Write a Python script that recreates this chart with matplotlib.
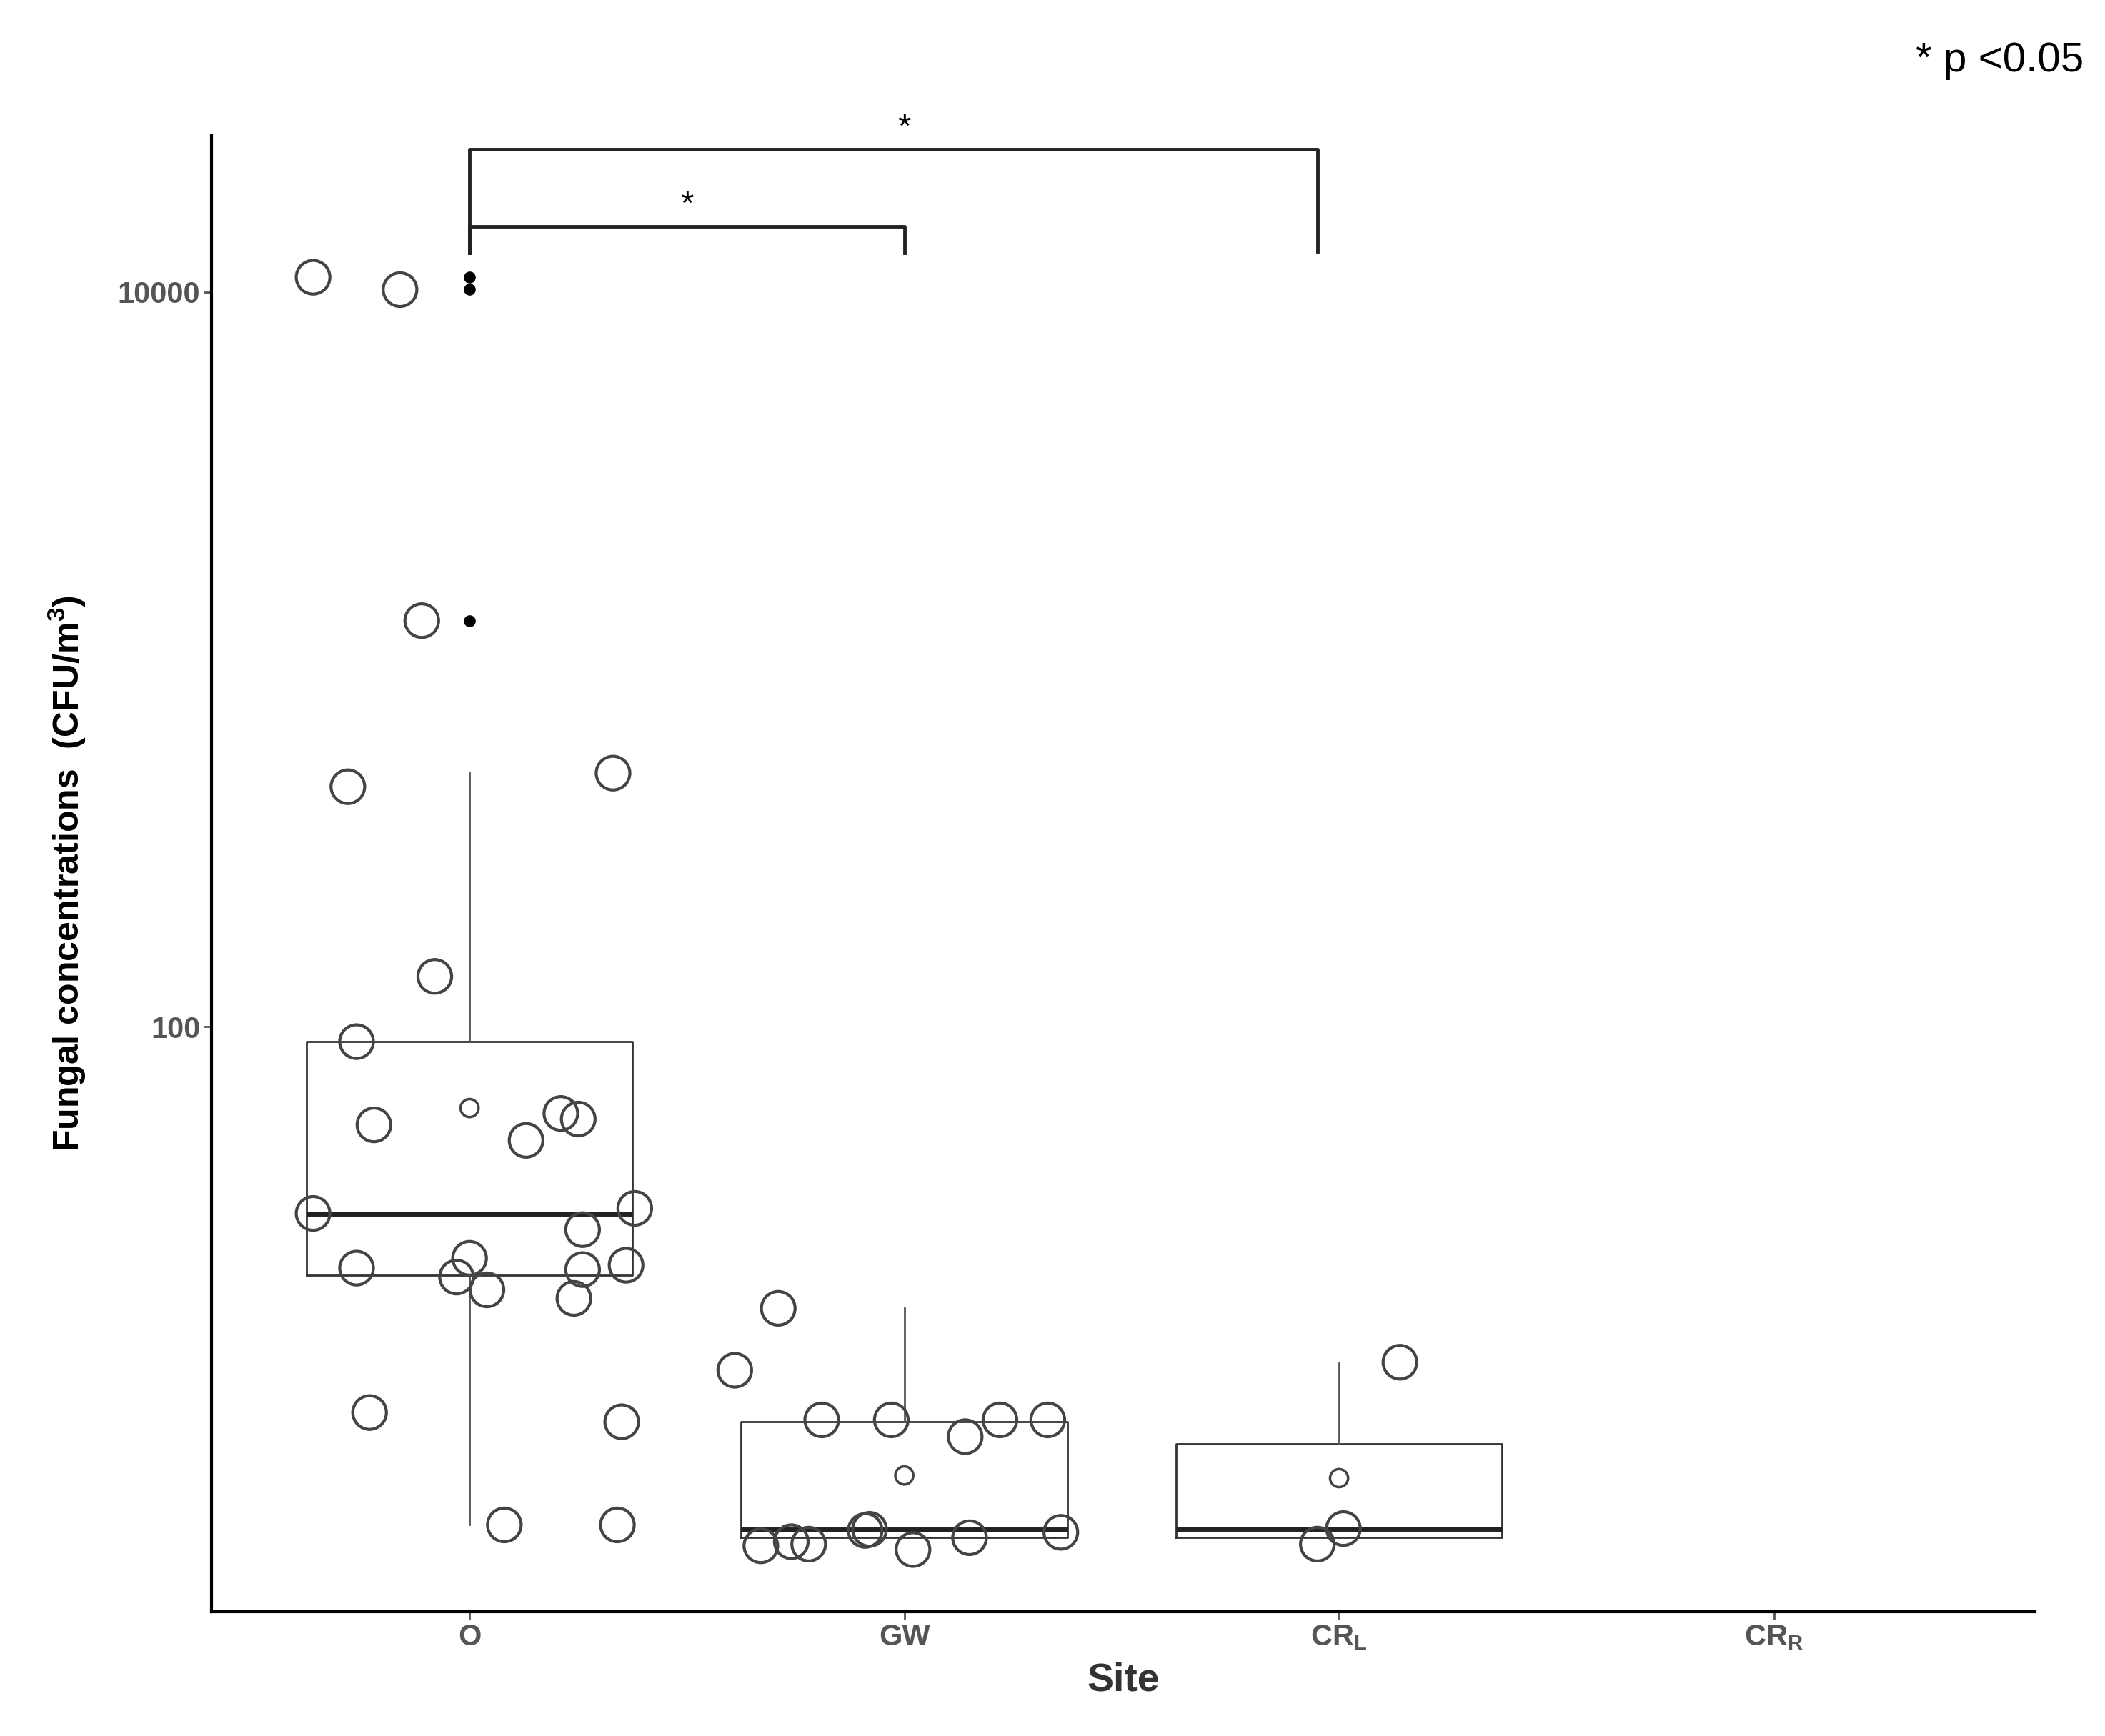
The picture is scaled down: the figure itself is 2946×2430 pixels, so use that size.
import numpy as np
import matplotlib.pyplot as plt

plt.rcParams['font.family'] = ['Liberation Sans', 'DejaVu Sans']

sites = ['O', 'GW', 'CR$_\\mathregular{L}$', 'CR$_\\mathregular{R}$']

# jittered points per site: (x offset, CFU/m3)
o_dx = [-0.36, -0.16, -0.11, -0.28, 0.33, -0.08, -0.26, -0.22, 0.21, 0.25, 0.13,
        -0.36, 0.38, 0.26, -0.26, 0.0, -0.03, 0.04, 0.26, 0.36, 0.24, -0.23, 0.35, 0.08, 0.34]
o_val = [10970, 10150, 1275, 450, 490, 137, 91, 54, 58, 56, 49,
         31, 32, 28, 22, 23.4, 20.8, 19.2, 21.8, 22.4, 18.2, 8.9, 8.4, 4.4, 4.4]
gw_dx = [-0.29, -0.39, -0.19, -0.03, 0.14, 0.22, 0.33, -0.33, -0.26, -0.22, -0.09, -0.08, 0.02, 0.15, 0.36]
gw_val = [17.1, 11.6, 8.5, 8.5, 7.65, 8.5, 8.5, 3.86, 3.96, 3.9, 4.25, 4.28, 3.77, 4.06, 4.2]
crl_dx = [0.14, 0.01, -0.05]
crl_val = [12.2, 4.3, 3.9]

# box stats: q1, median, q3, lower whisker, upper whisker, mean
boxes = [
    dict(q1=21, med=31, q3=91, whislo=4.4, whishi=490, mean=60),
    dict(q1=4.06, med=4.28, q3=8.4, whislo=4.06, whishi=17.1, mean=6.0),
    dict(q1=4.07, med=4.3, q3=7.3, whislo=4.07, whishi=12.2, mean=5.9),
]
outliers_o = [10970, 10150, 1275]

fig = plt.figure(figsize=(29.46, 24.3), dpi=100)
ax = fig.add_axes((0.1006, 0.0715, 0.866, 0.8505))
ax.set_yscale('log')
ax.set_ylim(2.55, 26700)
ax.set_xlim(-0.593, 3.6)

bxp = []
for i, b in enumerate(boxes):
    bxp.append(dict(b, label=str(i), fliers=[]))
ax.bxp(bxp, positions=[0, 1, 2], widths=0.75, showfliers=False,
       boxprops=dict(color='#333333', linewidth=2),
       whiskerprops=dict(color='#555555', linewidth=2),
       capprops=dict(linewidth=0),
       medianprops=dict(color='#222222', linewidth=5))

big = dict(s=1150, facecolors='none', edgecolors='#444444', linewidths=3, zorder=3)
ax.scatter(np.array(o_dx), o_val, **big)
ax.scatter(1 + np.array(gw_dx), gw_val, **big)
ax.scatter(2 + np.array(crl_dx), crl_val, **big)
ax.scatter([0, 1, 2], [b['mean'] for b in boxes], s=330, facecolors='none',
           edgecolors='#444444', linewidths=2.5, zorder=3)
ax.scatter([0, 0, 0], outliers_o, s=120, color='black', zorder=4)

# significance brackets
ax.plot([0, 0, 1, 1], [12800, 15100, 15100, 12800], color='#222222', lw=3.5)
ax.plot([0, 0, 1.95, 1.95], [12800, 24500, 24500, 12900], color='#222222', lw=3.5)
ax.text(0.5, 15600, '*', ha='center', va='bottom', fontsize=34)
ax.text(1.0, 25300, '*', ha='center', va='bottom', fontsize=34, clip_on=False)

ax.set_yticks([100, 10000])
ax.set_yticklabels(['100', '10000'])
ax.minorticks_off()
ax.set_xticks([0, 1, 2, 3])
ax.set_xticklabels(sites)
ax.tick_params(axis='both', labelsize=30, colors='#555555', length=8, width=2)
for lab in ax.get_xticklabels() + ax.get_yticklabels():
    lab.set_fontweight('bold')
ax.spines['top'].set_visible(False)
ax.spines['right'].set_visible(False)
ax.spines['left'].set_linewidth(3)
ax.spines['bottom'].set_linewidth(3)
ax.set_xlabel('Site', fontsize=40, fontweight='bold', color='#333333', labelpad=10)
ax.set_ylabel('Fungal concentrations  (CFU/m$^\\mathregular{3}$)', fontsize=36,
              fontweight='bold', labelpad=30)

fig.text(0.99, 0.965, '* p <0.05', ha='right', va='center', fontsize=42)

fig.savefig('out.png', dpi=100)
